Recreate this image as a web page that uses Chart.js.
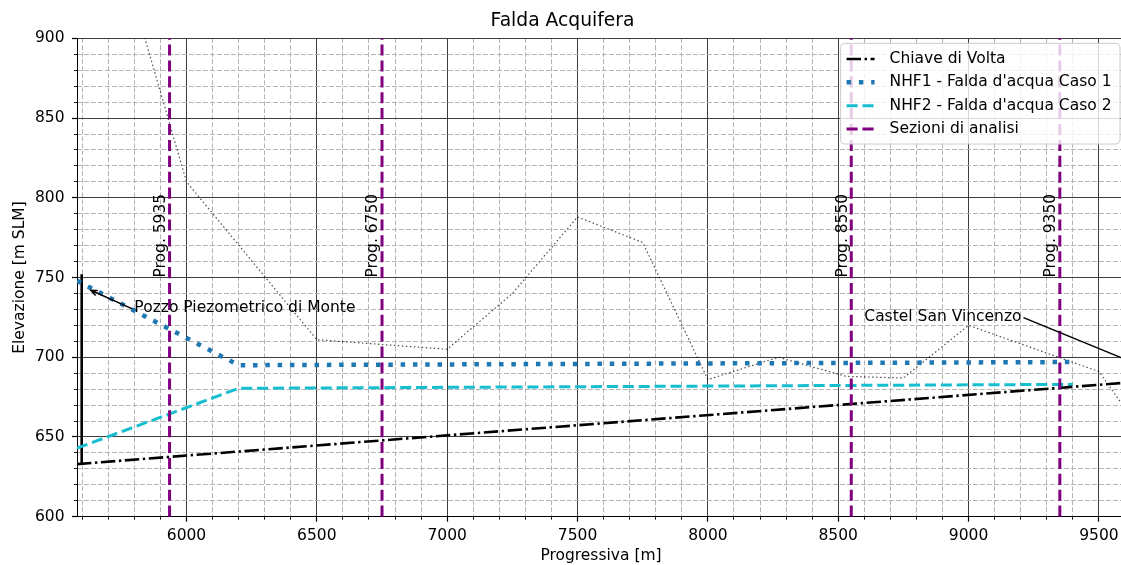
<!DOCTYPE html>
<html>
<head>
<meta charset="utf-8">
<title>Falda Acquifera</title>
<script src="https://cdn.jsdelivr.net/npm/chart.js@4.4.1/dist/chart.umd.min.js"></script>
<style>
html, body { margin: 0; padding: 0; overflow: hidden; background: #fff; }
canvas { display: block; }
</style>
</head>
<body>
<canvas id="grafico" width="1125" height="565"></canvas>
<script>
// limiti assi e tick
const xLimiti = [5580, 9600];
const yLimiti = [600, 900];
const xTicks = [6000, 6500, 7000, 7500, 8000, 8500, 9000, 9500];
const yTicks = [600, 650, 700, 750, 800, 850, 900];

// chiave di volta della galleria
const chiaveX = [5580, 9600];
const chiaveY = [633, 684];

// falda caso 1 e caso 2
const nhf1X = [5580, 6200, 9400];
const nhf1Y = [748, 695, 697];
const nhf2X = [5580, 6200, 9400];
const nhf2Y = [643, 680.5, 683];

// profilo del terreno
const terrenoX = [5750, 6000, 6500, 7000, 7250, 7500, 7750, 8000, 8270, 8530, 8750, 9000, 9500, 9600];
const terrenoY = [951, 810, 711, 705, 740, 788, 772, 686, 700, 688, 687, 720, 691, 668];

// pozzo piezometrico (verticale)
const pozzoX = [5598, 5598];
const pozzoY = [633, 752];

// sezioni di analisi
const sezioni = [5935, 6750, 8550, 9350];
const quotaEtichette = 750;

// annotazioni
const annTesti = ['Pozzo Piezometrico di Monte', 'Castel San Vincenzo'];
const annTestoX = [5800, 8600];
const annTestoY = [731, 725.5];
const annPuntaX = [5633, 9700];
const annPuntaY = [742, 692];

const font = '"DejaVu Sans", sans-serif';
const fs = 15.5;
Chart.defaults.font.family = font;
Chart.defaults.color = '#000';

function serie(xs, ys) {
  return xs.map((x, i) => ({ x: x, y: ys[i] }));
}

function linea(label, data, colore, spessore, tratto, legenda) {
  return {
    label: label,
    legenda: legenda,
    data: data,
    borderColor: colore,
    backgroundColor: colore,
    borderWidth: spessore,
    borderDash: tratto,
    borderCapStyle: 'butt',
    pointRadius: 0,
    fill: false,
    tension: 0
  };
}

let datasets = [];
sezioni.forEach((s, i) => {
  datasets.push(linea('Sezioni di analisi', serie([s, s], yLimiti), '#800080', 3, [11.1, 4.8], i === 0 ? 4 : 0));
});
datasets.push(linea('Chiave di Volta', serie(chiaveX, chiaveY), '#000000', 2.6, [14.4, 3.6, 2.4, 3.6], 1));
datasets.push(linea('NHF1 - Falda d\'acqua Caso 1', serie(nhf1X, nhf1Y), '#1f77b4', 4.5, [4.5, 7.8], 2));
datasets.push(linea('NHF2 - Falda d\'acqua Caso 2', serie(nhf2X, nhf2Y), '#17becf', 3, [11.1, 4.8], 3));
datasets.push(linea('Pozzo', serie(pozzoX, pozzoY), '#000000', 2.6, [], 0));
datasets.push(linea('Terreno', serie(terrenoX, terrenoY), 'rgba(0,0,0,0.7)', 1.2, [1.5, 2.5], 0));

function tickMinori(scale, passo, passoMaggiore) {
  let t = [];
  for (let v = Math.ceil(scale.min / passo) * passo; v <= scale.max; v += passo) {
    if (v % passoMaggiore !== 0) t.push({ value: v });
  }
  scale.ticks = t;
}

const disegniExtra = {
  id: 'disegniExtra',
  afterDraw(chart) {
    const ctx = chart.ctx;
    const a = chart.chartArea;
    const sx = chart.scales.x, sy = chart.scales.y;
    ctx.save();

    // etichette sezioni
    ctx.font = fs + 'px ' + font;
    ctx.fillStyle = '#000';
    sezioni.forEach(s => {
      ctx.save();
      ctx.translate(sx.getPixelForValue(s) - 1, sy.getPixelForValue(quotaEtichette));
      ctx.rotate(-Math.PI / 2);
      ctx.textAlign = 'left';
      ctx.textBaseline = 'bottom';
      ctx.fillText('Prog. ' + s, 0, 0);
      ctx.restore();
    });

    // annotazioni con freccia
    annTesti.forEach((t, i) => {
      const tx = sx.getPixelForValue(annTestoX[i]);
      const ty = sy.getPixelForValue(annTestoY[i]);
      const px = sx.getPixelForValue(annPuntaX[i]);
      const py = sy.getPixelForValue(annPuntaY[i]);
      const w = ctx.measureText(t).width;
      ctx.textAlign = 'left';
      ctx.textBaseline = 'middle';
      ctx.fillText(t, tx, ty);
      const ax = px < tx ? tx - 2 : tx + w + 2;
      const ay = ty + 1;
      ctx.save();
      ctx.beginPath();
      ctx.rect(a.left, a.top, a.right - a.left, a.bottom - a.top);
      ctx.clip();
      ctx.strokeStyle = '#000';
      ctx.lineWidth = 1.5;
      ctx.beginPath();
      ctx.moveTo(ax, ay);
      ctx.lineTo(px, py);
      const ang = Math.atan2(ay - py, ax - px);
      ctx.moveTo(px + 7 * Math.cos(ang + 0.4), py + 7 * Math.sin(ang + 0.4));
      ctx.lineTo(px, py);
      ctx.lineTo(px + 7 * Math.cos(ang - 0.4), py + 7 * Math.sin(ang - 0.4));
      ctx.stroke();
      ctx.restore();
    });

    // legenda
    const voci = chart.data.datasets.filter(d => d.legenda > 0).sort((p, q) => p.legenda - q.legenda);
    const maxW = Math.max(...voci.map(d => ctx.measureText(d.label).width));
    const w = 49 + maxW + 8.5, h = 100.7;
    const right = a.right - 5, top = a.top + 5, left = right - w;
    ctx.beginPath();
    if (ctx.roundRect) ctx.roundRect(left, top, w, h, 4); else ctx.rect(left, top, w, h);
    ctx.fillStyle = 'rgba(255,255,255,0.8)';
    ctx.fill();
    ctx.strokeStyle = '#cccccc';
    ctx.lineWidth = 1;
    ctx.stroke();
    voci.forEach((d, i) => {
      const yy = top + 15.7 + i * 23.3;
      ctx.beginPath();
      ctx.strokeStyle = d.borderColor;
      ctx.lineWidth = d.borderWidth;
      ctx.lineCap = 'butt';
      ctx.setLineDash(d.borderDash);
      ctx.moveTo(left + 6, yy);
      ctx.lineTo(left + 34, yy);
      ctx.stroke();
      ctx.setLineDash([]);
      ctx.fillStyle = '#000';
      ctx.textAlign = 'left';
      ctx.textBaseline = 'middle';
      ctx.fillText(d.label, left + 49, yy);
    });
    ctx.restore();
  }
};

new Chart(document.getElementById('grafico'), {
  type: 'line',
  data: { datasets: datasets },
  plugins: [disegniExtra],
  options: {
    responsive: false,
    animation: false,
    events: [],
    layout: { padding: 0 },
    plugins: {
      legend: { display: false },
      tooltip: { enabled: false },
      title: {
        display: true,
        text: 'Falda Acquifera',
        color: '#000',
        font: { size: 18.7, weight: 'normal', family: font },
        padding: { top: 9.8, bottom: 6.1 }
      }
    },
    scales: {
      x: {
        type: 'linear',
        position: 'bottom',
        weight: 1,
        min: xLimiti[0],
        max: xLimiti[1],
        afterBuildTicks: s => { s.ticks = xTicks.map(v => ({ value: v })); },
        afterFit: s => { s.height = 48.3; },
        ticks: { font: { size: fs }, color: '#000', padding: 4.5, maxRotation: 0, autoSkip: false, callback: v => String(v) },
        grid: { color: '#3d3d3d', lineWidth: 1, tickLength: 5, tickColor: '#000', tickWidth: 1.2 },
        border: { color: '#000', width: 1 },
        title: { display: true, text: 'Progressiva [m]', color: '#000', font: { size: fs }, padding: { top: 0, bottom: 0 } }
      },
      xm: {
        type: 'linear',
        position: 'bottom',
        weight: 0,
        z: -1,
        min: xLimiti[0],
        max: xLimiti[1],
        afterBuildTicks: s => tickMinori(s, 100, 500),
        afterFit: s => { s.height = 0; },
        ticks: { display: false },
        grid: { color: '#b3b3b3', lineWidth: 1, tickLength: 3, tickColor: '#000', tickWidth: 0.9 },
        border: { display: false, dash: [4.8, 2.2] }
      },
      y: {
        type: 'linear',
        position: 'left',
        weight: 1,
        min: yLimiti[0],
        max: yLimiti[1],
        afterBuildTicks: s => { s.ticks = yTicks.map(v => ({ value: v })); },
        afterFit: s => { s.width = 77; },
        ticks: { font: { size: fs }, color: '#000', padding: 7.5, callback: v => String(v) },
        grid: { color: '#3d3d3d', lineWidth: 1, tickLength: 5, tickColor: '#000', tickWidth: 1.2 },
        border: { color: '#000', width: 1 },
        title: { display: true, text: 'Elevazione [m SLM]', color: '#000', font: { size: fs }, padding: { top: 11, bottom: 0 } }
      },
      ym: {
        type: 'linear',
        position: 'left',
        weight: 0,
        z: -1,
        min: yLimiti[0],
        max: yLimiti[1],
        afterBuildTicks: s => tickMinori(s, 10, 50),
        afterFit: s => { s.width = 0; },
        ticks: { display: false },
        grid: { color: '#b3b3b3', lineWidth: 1, tickLength: 3, tickColor: '#000', tickWidth: 0.9 },
        border: { display: false, dash: [4.8, 2.2] }
      }
    }
  }
});
</script>
</body>
</html>
